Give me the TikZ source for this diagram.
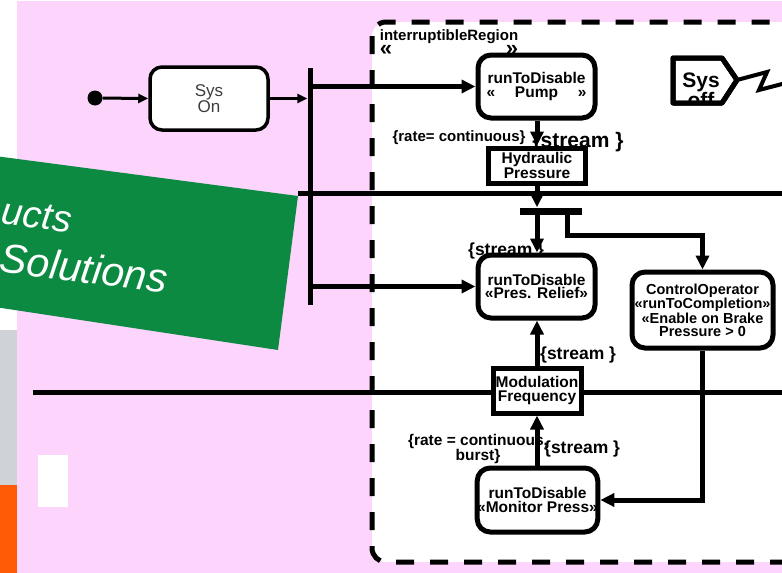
\documentclass[tikz,border=0pt]{standalone}
\usepackage{fontspec}
\setmainfont{Liberation Sans}
\usetikzlibrary{arrows.meta}
\definecolor{bgpink}{RGB}{252,212,252}
\definecolor{bannergreen}{RGB}{12,138,66}
\definecolor{stripgrey}{RGB}{207,210,215}
\definecolor{striporange}{RGB}{255,90,5}
\definecolor{sysgrey}{RGB}{60,60,60}
\newcommand\dgfont{\fontsize{15.5}{13.5}\selectfont\bfseries}
\newcommand\gl[2]{\makebox[#1]{«\hfill #2\hfill »}}
\begin{document}
\begin{tikzpicture}[x=1pt,y=-1pt,
  actbox/.style={draw, line width=5pt, rounded corners=13pt, fill=white, inner sep=0pt, align=center, font=\dgfont},
  pinbox/.style={draw, line width=5pt, fill=white, inner sep=0pt, align=center, font=\dgfont},
  barnode/.style={fill=black, draw=none, inner sep=0pt},
  arr/.style={line width=5pt, -{Triangle[length=14pt,width=13pt]}},
  arrs/.style={line width=3pt, -{Triangle[length=10pt,width=9pt]}},
  lane/.style={line width=5pt},
  lbl/.style={inner sep=0pt, font=\dgfont, align=center},
  slbl/.style={inner sep=0pt, font=\fontsize{17.5}{17.5}\selectfont\bfseries},
  bannertext/.style={rotate=-7.5, text=white, inner sep=0pt},
]
\useasboundingbox (0,0) rectangle (782,573);
% background
\fill[white] (0,0) rectangle (782,573);
\fill[bgpink] (17,1) rectangle (782,573);
\fill[stripgrey] (0,330) rectangle (17,485);
\fill[striporange] (0,485) rectangle (17,573);
\fill[white] (38,455) rectangle (68,507);
% interruptible region
\draw[line width=5pt, dash pattern=on 18pt off 16pt, rounded corners=14pt, fill=white] (372,22) rectangle (812,562);
% lanes
\coordinate (la1) at (298,193); \coordinate (lb1) at (782,193);
\coordinate (la2) at (33,392);  \coordinate (lb2) at (782,392);
\draw[lane] (la1) -- (lb1);
\draw[lane] (la2) -- (lb2);
% green banner
\fill[bannergreen] (-5,156) -- (298,196) -- (278,350) -- (-5,307) -- cycle;
\node[bannertext, font=\fontsize{38}{38}\selectfont\itshape] (ucts) at (37,216) {ucts};
\node[bannertext, font=\fontsize{41}{41}\selectfont\itshape] (solutions) at (84,268) {Solutions};
% left part
\node[circle, fill=black, minimum size=15pt, inner sep=0pt] (init) at (95,98) {};
\node[draw, line width=3.5pt, rounded corners=12pt, fill=white, minimum width=118pt, minimum height=63pt,
      inner sep=0pt, align=center, font=\fontsize{17}{13}\selectfont, text=sysgrey] (sysOn) at (209,98.5) {Sys\\On};
\node[barnode, minimum width=5pt, minimum height=237pt] (fork1) at (310,186.5) {};
\draw[arrs] (init) -- (sysOn.west);
\draw[arrs] (sysOn.east) -- (sysOn.east -| fork1.west);
% labels
\node[lbl, font=\fontsize{15}{15}\selectfont\bfseries] (reglbl) at (449,37) {interruptibleRegion};
\node[lbl, font=\fontsize{22}{22}\selectfont\bfseries] (glL) at (386,50) {«};
\node[lbl, font=\fontsize{22}{22}\selectfont\bfseries] (glR) at (512,50) {»};
\node[lbl, font=\fontsize{15}{15}\selectfont\bfseries] (rate1) at (459,138) {\{rate= continuous\}};
\node[lbl, font=\fontsize{21}{21}\selectfont\bfseries] (stream1) at (578,142) {\{stream \}};
\node[slbl, anchor=west] (stream2) at (468,251) {\{stream \}};
\node[slbl, anchor=west] (stream3) at (540,355) {\{stream \}};
\node[lbl, font=\fontsize{15.5}{15}\selectfont\bfseries] (rate2) at (478,449) {\{rate = continuous,\\burst\}};
\node[slbl, anchor=west] (stream4) at (544,449) {\{stream \}};
% activity nodes
\node[actbox, minimum width=117pt, minimum height=63pt] (pump) at (536.5,86.5) {runToDisable\\\gl{100pt}{Pump}};
\node[pinbox, minimum width=97pt, minimum height=35pt] (hyd) at (537,165.5) {Hydraulic\\Pressure};
\node[barnode, minimum width=62pt, minimum height=7pt] (fork2) at (551,211) {};
\node[actbox, minimum width=117pt, minimum height=63pt] (relief) at (536.5,286.5) {runToDisable\\«Pres. Relief»};
\node[actbox, minimum width=141pt, minimum height=76pt, font=\fontsize{14.5}{13}\selectfont\bfseries] (ctrl) at (702.5,310)
  {ControlOperator\\«runToCompletion»\\«Enable on Brake\\Pressure > 0};
\node[pinbox, minimum width=88pt, minimum height=45pt] (mod) at (537,390.5) {Modulation\\Frequency};
\node[actbox, minimum width=119pt, minimum height=64pt] (monitor) at (537.5,500) {runToDisable\\«Monitor Press»};
% connectors
\draw[arr] (fork1.east |- pump.west) -- (pump.west);
\draw[arr] (fork1.east |- relief.west) -- (relief.west);
\draw[arr] (pump.south -| hyd.north) -- (hyd.north);
\draw[arr] (hyd.south) -- (hyd.south |- fork2.north);
\draw[arr] (fork2.south -| hyd.south) -- (relief.north -| hyd.south);
\draw[arr] ([xshift=16pt]fork2.south) -- ++(0,21) -| (ctrl.north);
\draw[arr] (mod.north) -- (mod.north |- relief.south);
\draw[arr] (monitor.north -| mod.south) -- (mod.south);
\draw[arr] (ctrl.south) |- (monitor.east);
% Sys off
\draw[line width=5pt, line join=round, fill=white] (673,58) -- (722,58) -- (737,80) -- (722,103) -- (673,103) -- cycle;
\begin{scope}
\clip (673,58) -- (722,58) -- (737,80) -- (722,103) -- (673,103) -- cycle;
\node[anchor=north, inner sep=0pt, align=center, font=\fontsize{21}{17}\selectfont\bfseries] (sysoff) at (701,72.5) {Sys\\off};
\end{scope}
\draw[line width=5pt, line join=round] (673,58) -- (722,58) -- (737,80) -- (722,103) -- (673,103) -- cycle;
\coordinate (sotip) at (737,80);
\draw[line width=4pt] (sotip) -- (767,72) -- (759,90) -- (786,83);
\end{tikzpicture}
\end{document}
